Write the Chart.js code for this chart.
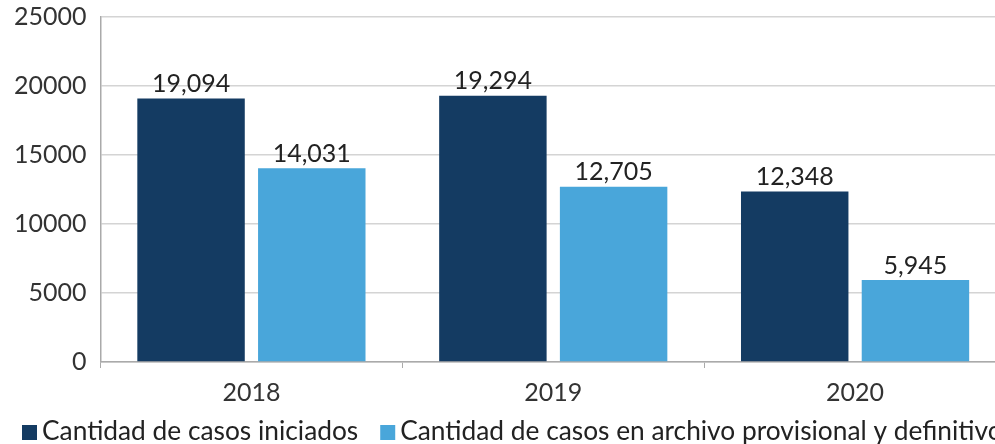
<!DOCTYPE html>
<html>
<head>
<meta charset="utf-8">
<script src="https://cdn.jsdelivr.net/npm/chart.js@4"></script>
<style>
  html, body { margin: 0; padding: 0; background: #fff; overflow: hidden; }
  #wrap { width: 1022px; height: 456px; margin-top: -12px; }
</style>
</head>
<body>
<div id="wrap"><canvas id="casosChart"></canvas></div>
<script>
// data
const years = ["2018", "2019", "2020"];
const iniciados = [19094, 19294, 12348];
const archivados = [14031, 12705, 5945];
const seriesNames = ["Cantidad de casos iniciados", "Cantidad de casos en archivo provisional y definitivo"];
const yTicks = [0, 5000, 10000, 15000, 20000, 25000];

// value labels over each bar
const barLabels = {
  id: "barLabels",
  afterDatasetsDraw(chart) {
    const ctx = chart.ctx;
    ctx.save();
    ctx.font = "25px Lato";
    ctx.fillStyle = "#222";
    ctx.textAlign = "center";
    ctx.textBaseline = "bottom";
    chart.data.datasets.forEach((ds, i) => {
      chart.getDatasetMeta(i).data.forEach((bar, j) => {
        ctx.fillText(ds.data[j].toLocaleString("en-US"), bar.x, bar.y - 2);
      });
    });
    ctx.restore();
  }
};

// one-row legend along the bottom, left aligned like the original
const bottomLegend = {
  id: "bottomLegend",
  afterDraw(chart) {
    const ctx = chart.ctx;
    const y = chart.height - 12;
    let x = 22;
    ctx.save();
    ctx.font = "26.3px Lato";
    ctx.textBaseline = "middle";
    ctx.textAlign = "left";
    chart.data.datasets.forEach((ds) => {
      ctx.fillStyle = ds.backgroundColor;
      ctx.fillRect(x, y - 7, 15, 15);
      x += 20;
      ctx.fillStyle = "#222";
      ctx.fillText(ds.label, x, y);
      x += ctx.measureText(ds.label).width + 22;
    });
    ctx.restore();
  }
};

new Chart(document.getElementById("casosChart"), {
  type: "bar",
  data: {
    labels: years,
    datasets: [
      {
        label: seriesNames[0],
        data: iniciados,
        backgroundColor: "#143b62",
        categoryPercentage: 0.8,
        barPercentage: 0.89,
      },
      {
        label: seriesNames[1],
        data: archivados,
        backgroundColor: "#49a6da",
        categoryPercentage: 0.8,
        barPercentage: 0.89,
      },
    ],
  },
  options: {
    responsive: true,
    maintainAspectRatio: false,
    animation: false,
    layout: { padding: { top: 0, right: 16, left: 0, bottom: 26 } },
    plugins: {
      legend: { display: false },
      tooltip: { enabled: false },
    },
    scales: {
      x: {
        grid: { display: true, drawOnChartArea: false, offset: true, tickLength: 6, color: "#aaa" },
        border: { color: "#aaa", width: 1.5 },
        ticks: { font: { family: "Lato", size: 25 }, color: "#333", padding: 10 },
      },
      y: {
        min: 0,
        max: 25000,
        afterBuildTicks(axis) {
          axis.ticks = yTicks.map((v) => ({ value: v }));
        },
        grid: { color: "#d4d4d4", lineWidth: 1.5, tickLength: 0 },
        border: { color: "#aaa", width: 1.5 },
        ticks: {
          font: { family: "Lato", size: 25 },
          color: "#333",
          padding: 14,
          callback: (v) => String(v),
        },
      },
    },
  },
  plugins: [barLabels, bottomLegend],
});
</script>
</body>
</html>
